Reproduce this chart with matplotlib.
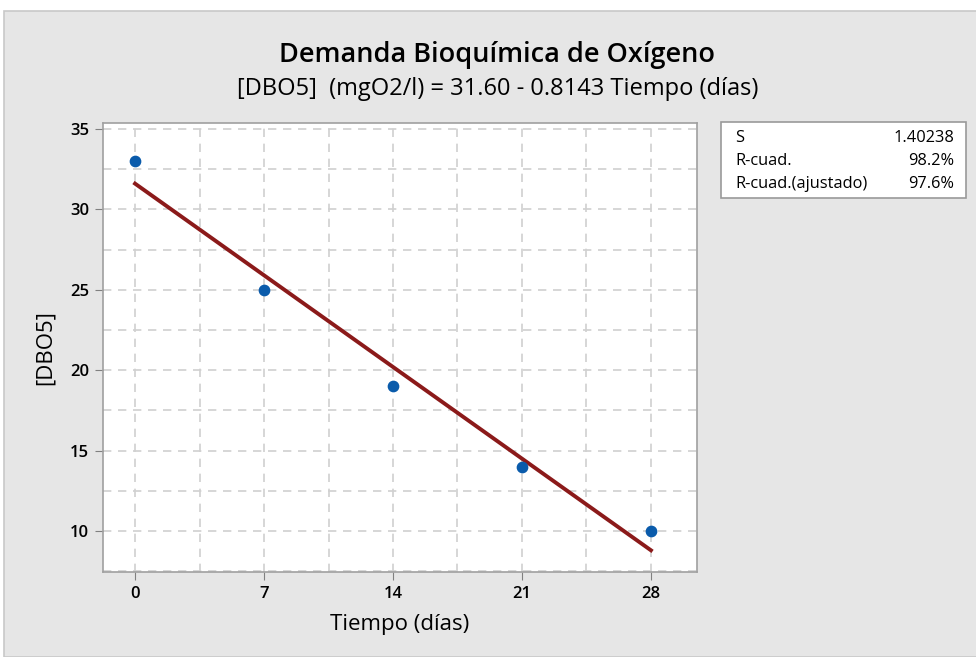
# Fitted line plot: DBO5 vs tiempo
import numpy as np
import matplotlib.pyplot as plt
from matplotlib.patches import Rectangle
from matplotlib.ticker import MultipleLocator

plt.rcParams['font.family'] = ['Open Sans', 'DejaVu Sans']

tiempo = [0, 7, 14, 21, 28]
dbo5 = [33, 25, 19, 14, 10]
x_ticks = [0, 7, 14, 21, 28]
y_ticks = [10, 15, 20, 25, 30, 35]
stats_names = ['S', 'R-cuad.', 'R-cuad.(ajustado)']
stats_vals = ['1.40238', '98.2%', '97.6%']

W, H = 976, 657
fig = plt.figure(figsize=(W / 100, H / 100), dpi=100)
fig.patch.set_facecolor('white')
fig.patches.append(Rectangle((4 / W, 0), 1, 1 - 11 / H, transform=fig.transFigure,
                             facecolor='#e6e6e6', edgecolor='#c8c8c8', lw=1.2, zorder=-10))

ax = fig.add_axes([103 / W, 1 - 572 / H, (697 - 103) / W, (572 - 123) / H])
ax.set_facecolor('white')

slope, intercept = np.polyfit(tiempo, dbo5, 1)
xs = np.array([min(tiempo), max(tiempo)])
ax.plot(xs, intercept + slope * xs, color='#8b1a1a', lw=2.8, zorder=3)
ax.scatter(tiempo, dbo5, s=55, color='#0a5bab', zorder=4)

ax.set_xlim(-1.74, 30.5)
ax.set_ylim(7.45, 35.37)
ax.set_xticks(x_ticks)
ax.set_yticks(y_ticks)
ax.xaxis.set_minor_locator(MultipleLocator(3.5))
ax.yaxis.set_minor_locator(MultipleLocator(2.5))
ax.grid(True, which='both', color='#d0d0d0', ls=(0, (5, 4)), lw=1.2)
ax.set_axisbelow(True)
for s in ax.spines.values():
    s.set_color('#a0a0a0')
    s.set_linewidth(1.2)
ax.tick_params(which='major', length=6, color='#808080', labelsize=12, colors='#808080',
               labelcolor='black', pad=4)
ax.tick_params(which='minor', length=0)
for lab in ax.get_xticklabels() + ax.get_yticklabels():
    lab.set_fontweight('semibold')

ax.set_xlabel('Tiempo (días)', fontsize=16, fontweight='medium', labelpad=9)
ax.set_ylabel('[DBO5]', fontsize=16, fontweight='medium', labelpad=10)

fig.text(497 / W, 1 - 55 / H, 'Demanda Bioquímica de Oxígeno', ha='center', va='center',
         fontsize=19.5, fontweight='semibold')
fig.text(498 / W, 1 - 89 / H, '[DBO5]  (mgO2/l) = 31.60 - 0.8143 Tiempo (días)',
         ha='center', va='center', fontsize=17)

# stats box
bx0, by0, bx1, by1 = 721, 122, 966, 198
fig.patches.append(Rectangle((bx0 / W, 1 - by1 / H), (bx1 - bx0) / W, (by1 - by0) / H,
                             transform=fig.transFigure, facecolor='white',
                             edgecolor='#9a9a9a', lw=1.2))
for i, (n, v) in enumerate(zip(stats_names, stats_vals)):
    yy = 1 - (138 + i * 23) / H
    fig.text(735 / W, yy, n, ha='left', va='center', fontsize=11.8, fontweight='medium')
    fig.text(954 / W, yy, v, ha='right', va='center', fontsize=11.8, fontweight='medium')

fig.savefig('out.png', dpi=100)
